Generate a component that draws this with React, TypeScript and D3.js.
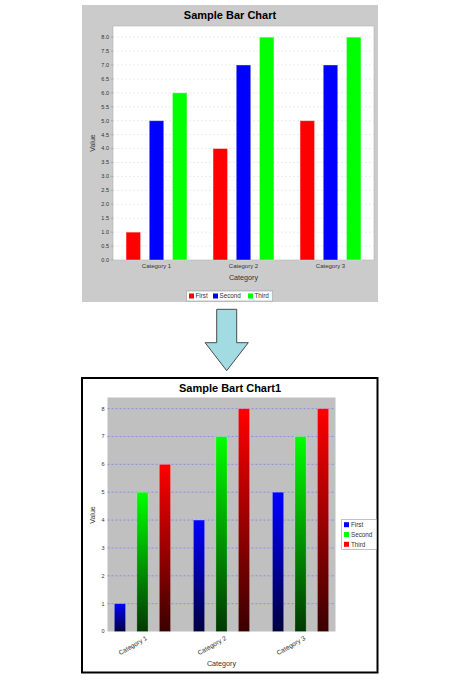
import * as d3 from "d3";
import * as React from "react";

const categories = ["Category 1", "Category 2", "Category 3"];
const seriesNames = ["First", "Second", "Third"];
const firstValues = [1, 4, 5];
const secondValues = [5, 7, 7];
const thirdValues = [6, 8, 8];
const topTickLabels = ["0.0", "0.5", "1.0", "1.5", "2.0", "2.5", "3.0", "3.5", "4.0", "4.5", "5.0", "5.5", "6.0", "6.5", "7.0", "7.5", "8.0"];
const bottomTickLabels = ["0", "1", "2", "3", "4", "5", "6", "7", "8"];
const topColors = ["#ff0000", "#0000ff", "#00ff00"];
const bottomColors = ["#0000ff", "#00ff00", "#ff0000"];
const bottomDark = ["#000040", "#003800", "#3a0000"];

const font = "'Liberation Sans', Arial, sans-serif";
const series = [firstValues, secondValues, thirdValues];

const TopChart: React.FC = () => {
    const x = d3.scaleBand<string>().domain(categories).range([113, 374]).paddingInner(0.3).paddingOuter(0.15);
    const xi = d3.scaleBand<string>().domain(seriesNames).range([0, x.bandwidth()]).paddingInner(0.375);
    const y = d3.scaleLinear().domain([0, 8.4]).range([260, 26]);
    const legendX = [189, 213, 248]; // legend item offsets
    return (
        <g>
            <rect x={82} y={5} width={296} height={297} fill="#cbcbcb" />
            <text x={230} y={19} textAnchor="middle" fontFamily={font} fontWeight="bold" fontSize={11}>Sample Bar Chart</text>
            <rect x={113} y={26} width={261} height={234} fill="#ffffff" stroke="#a8a8a8" strokeWidth={0.5} />
            {topTickLabels.map(t => (
                <g key={t}>
                    <line x1={113} x2={374} y1={y(+t)} y2={y(+t)} stroke="#d8d8d8" strokeWidth={0.5} strokeDasharray="2,2" />
                    <line x1={111} x2={113} y1={y(+t)} y2={y(+t)} stroke="#888" strokeWidth={0.5} />
                    <text x={109} y={y(+t)} dy="0.35em" textAnchor="end" fontFamily={font} fontSize={5.5} fill="#333">{t}</text>
                </g>
            ))}
            {categories.map((c, ci) => (
                <g key={c}>
                    {seriesNames.map((s, si) => {
                        const v = series[si][ci];
                        return <rect key={s} x={(x(c) ?? 0) + (xi(s) ?? 0)} y={y(v)} width={xi.bandwidth()} height={y(0) - y(v)}
                            fill={topColors[si]} stroke="#ffffff" strokeOpacity={0.45} strokeWidth={0.8} />;
                    })}
                    <text x={(x(c) ?? 0) + x.bandwidth() / 2} y={268} textAnchor="middle" fontFamily={font} fontSize={6} fill="#333">{c}</text>
                </g>
            ))}
            <text x={243.5} y={280} textAnchor="middle" fontFamily={font} fontSize={7.2} fill="#333">Category</text>
            <text transform={`translate(95,143) rotate(-90)`} textAnchor="middle" fontFamily={font} fontSize={7} fill="#333">Value</text>
            <rect x={186.7} y={291} width={86} height={10} fill="#ffffff" stroke="#9a9a9a" strokeWidth={0.6} />
            {seriesNames.map((s, i) => (
                <g key={s}>
                    <rect x={legendX[i]} y={293.5} width={5} height={5} fill={topColors[i]} />
                    <text x={legendX[i] + 6.5} y={296.2} dy="0.35em" fontFamily={font} fontSize={6.3} fill="#333">{s}</text>
                </g>
            ))}
        </g>
    );
};

const Arrow: React.FC = () => {
    const cx = 226.7, top = 309.3, neck = 342.7, tip = 370.7;
    const pts: [number, number][] = [
        [cx - 10, top], [cx + 10, top], [cx + 10, neck], [cx + 21.6, neck],
        [cx, tip], [cx - 21.6, neck], [cx - 10, neck],
    ];
    return <path d={(d3.line()(pts) ?? "") + "Z"} fill="#a3dbe2" stroke="#4a4a4a" strokeWidth={1} />;
};

const BottomChart: React.FC = () => {
    const x = d3.scaleBand<string>().domain(categories).range([107.5, 335.5]).paddingInner(0.2885).paddingOuter(0.0865);
    const xi = d3.scaleBand<string>().domain(seriesNames).range([0, x.bandwidth()]).paddingInner(0.5);
    const y = d3.scaleLinear().domain([0, 8.4]).range([631.5, 397.5]);
    return (
        <g>
            <defs>
                {bottomColors.map((c, i) => (
                    <linearGradient key={c} id={`grad${i}`} x1="0" y1="0" x2="0" y2="1">
                        <stop offset="0%" stopColor={c} />
                        <stop offset="100%" stopColor={bottomDark[i]} />
                    </linearGradient>
                ))}
            </defs>
            <rect x={82} y={378} width={295.5} height={294.5} fill="#ffffff" stroke="#000" strokeWidth={2} />
            <text x={230} y={391.5} textAnchor="middle" fontFamily={font} fontWeight="bold" fontSize={11}>Sample Bart Chart1</text>
            <rect x={107.5} y={397.5} width={228} height={234} fill="#c0c0c0" />
            {bottomTickLabels.map(t => (
                <g key={t}>
                    {+t > 0 && <line x1={107.5} x2={335.5} y1={y(+t)} y2={y(+t)} stroke="#6a6aff" strokeWidth={0.6} strokeDasharray="2,2" />}
                    <text x={104.5} y={y(+t)} dy="0.35em" textAnchor="end" fontFamily={font} fontSize={5.5} fill="#333">{t}</text>
                </g>
            ))}
            {categories.map((c, ci) => (
                <g key={c}>
                    {seriesNames.map((s, si) => {
                        const v = series[si][ci];
                        return <rect key={s} x={(x(c) ?? 0) + (xi(s) ?? 0)} y={y(v)} width={xi.bandwidth()} height={y(0) - y(v)}
                            fill={`url(#grad${si})`} stroke="#ffffff" strokeOpacity={0.3} strokeWidth={0.8} />;
                    })}
                    <text transform={`translate(${(x(c) ?? 0) + x.bandwidth() / 2 + 3},635.5) rotate(-30)`} dy="0.7em" textAnchor="end"
                        fontFamily={font} fontSize={6.5} fill="#333">{c}</text>
                </g>
            ))}
            <text x={221.5} y={666} textAnchor="middle" fontFamily={font} fontSize={7.2} fill="#333">Category</text>
            <text transform={`translate(95,515) rotate(-90)`} textAnchor="middle" fontFamily={font} fontSize={7} fill="#333">Value</text>
            <rect x={341.7} y={519.3} width={35} height={30} fill="#ffffff" stroke="#9a9a9a" strokeWidth={0.6} />
            {seriesNames.map((s, i) => (
                <g key={s}>
                    <rect x={344} y={522.2 + i * 9.8} width={5} height={5} fill={bottomColors[i]} />
                    <text x={351} y={524.7 + i * 9.8} dy="0.35em" fontFamily={font} fontSize={6.3} fill="#333">{s}</text>
                </g>
            ))}
        </g>
    );
};

export default function App() {
    return (
        <div style={{ position: "absolute", left: 0, top: 0 }}>
            <svg width={460} height={680} style={{ display: "block", background: "#ffffff" }}>
                <TopChart />
                <Arrow />
                <BottomChart />
            </svg>
        </div>
    );
}
